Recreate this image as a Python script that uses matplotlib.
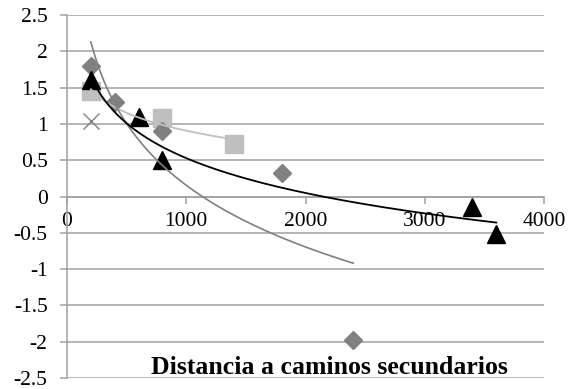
import numpy as np
import matplotlib.pyplot as plt

plt.rcParams['font.family'] = ['Liberation Serif', 'DejaVu Serif']

# datos
x_rombo = [200, 400, 800, 1800, 2400]
y_rombo = [1.8, 1.3, 0.9, 0.33, -1.98]

x_triang = [200, 600, 800, 3400, 3600]
y_triang = [1.6, 1.1, 0.5, -0.15, -0.52]

x_cuad = [200, 800, 1400]
y_cuad = [1.45, 1.08, 0.72]

x_cruz = [200]
y_cruz = [1.04]

xticks = [0, 1000, 2000, 3000, 4000]
yticks = [-2.5, -2, -1.5, -1, -0.5, 0, 0.5, 1, 1.5, 2, 2.5]


def tendencia_log(x, y):
    a, b = np.polyfit(np.log(x), y, 1)
    xs = np.linspace(min(x), max(x), 200)
    return xs, a * np.log(xs) + b


fig = plt.figure(figsize=(5.68, 3.89), dpi=100)
ax = fig.add_axes([67 / 568, 1 - 378 / 389, 477 / 568, 363 / 389])

gris = '#808080'
gris_claro = '#BFBFBF'
eje = '#A0A0A0'

# marcadores
ax.plot(x_cuad, y_cuad, 's', color=gris_claro, markersize=13, zorder=3)
ax.plot(x_rombo, y_rombo, 'D', color=gris, markersize=9.5, zorder=4)
ax.plot(x_triang, y_triang, '^', color='black', markersize=13.5, zorder=5)
ax.plot(x_cruz, y_cruz, 'x', color=gris, markersize=11, markeredgewidth=1.0, zorder=5)

# lineas de tendencia logaritmicas
xs, ys = tendencia_log(x_cuad, y_cuad)
ax.plot(xs, ys, color=gris_claro, linewidth=1.3, zorder=6)
xs, ys = tendencia_log(x_rombo, y_rombo)
ax.plot(xs, ys, color=gris, linewidth=1.2, zorder=6)
xs, ys = tendencia_log(x_triang, y_triang)
ax.plot(xs, ys, color='black', linewidth=1.3, zorder=6)

ax.set_xlim(0, 4000)
ax.set_ylim(-2.5, 2.5)
ax.set_xticks(xticks)
ax.set_yticks(yticks)
ax.set_yticklabels([f'{v:g}' for v in yticks])

ax.grid(True, axis='y', color=eje, linewidth=1.1, zorder=0)
ax.set_axisbelow(True)

for s in ['top', 'right']:
    ax.spines[s].set_visible(False)
ax.spines['bottom'].set_position(('data', 0))
ax.spines['bottom'].set_color(eje)
ax.spines['bottom'].set_linewidth(1.1)
ax.spines['left'].set_color(eje)
ax.spines['left'].set_linewidth(1.1)

ax.tick_params(axis='both', direction='out', length=5, width=1.1, color=eje,
               labelsize=15.5)
ax.tick_params(axis='y', pad=9)
ax.tick_params(axis='x', pad=6.5)

ax.text(0.55, 0.03, 'Distancia a caminos secundarios', transform=ax.transAxes,
        ha='center', va='center', fontsize=18.5, fontweight='bold')

fig.savefig('out.png', dpi=100)
